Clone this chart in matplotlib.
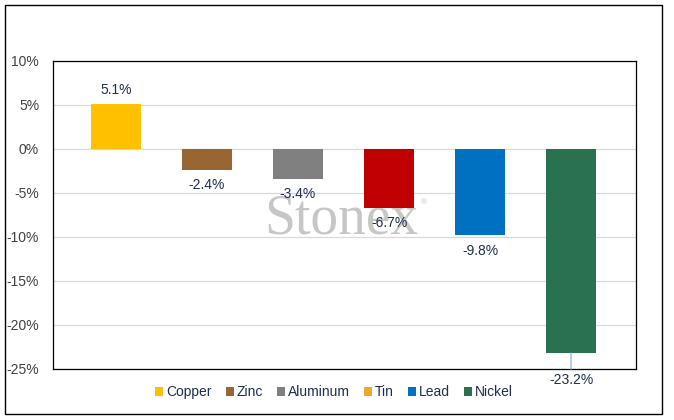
import matplotlib
matplotlib.use("Agg")
import matplotlib.pyplot as plt
from matplotlib.patches import Rectangle, Patch

plt.rcParams['font.family'] = ['Liberation Sans', 'DejaVu Sans']

metals = ["Copper", "Zinc", "Aluminum", "Tin", "Lead", "Nickel"]
changes = [5.1, -2.4, -3.4, -6.7, -9.8, -23.2]
bar_colors = ["#FFC000", "#996633", "#808080", "#C00000", "#0070C0", "#2A7150"]
legend_colors = ["#FFC000", "#996633", "#808080", "#F0A830", "#0070C0", "#2A7150"]
yticks = [10, 5, 0, -5, -10, -15, -20, -25]
ytick_labels = ["10%", "5%", "0%", "-5%", "-10%", "-15%", "-20%", "-25%"]

fig = plt.figure(figsize=(6.74, 4.2), dpi=100)
fig.patches.append(Rectangle((5/674, 1-414/420), (662-5)/674, (414-5)/420,
                             transform=fig.transFigure, fill=False,
                             edgecolor="black", linewidth=1.0))
ax = fig.add_axes([53/674, 1-369/420, (636-53)/674, (369-61)/420])

x = list(range(len(metals)))
ax.set_axisbelow(True)
ax.grid(axis='y', color="#D9D9D9", linewidth=0.9)
ax.bar(x, changes, width=0.55, color=bar_colors, zorder=2)

ax.set_ylim(-25, 10)
ax.set_xlim(-0.692, 5.714)
ax.set_yticks(yticks)
ax.set_yticklabels(ytick_labels, fontsize=10, color="#404040")
ax.set_xticks([])
ax.tick_params(axis='y', length=0, pad=10)
for s in ax.spines.values():
    s.set_linewidth(0.9)
    s.set_color("black")

txtc = "#1F2D4D"
for xi, v in zip(x, changes):
    if v >= 0:
        ax.annotate(f"{v:.1f}%", (xi, v), xytext=(0, 10), textcoords="offset points",
                    ha="center", va="center", fontsize=10, color=txtc, zorder=4)
    elif v < -20:
        ax.annotate(f"{v:.1f}%", (xi, v), xytext=(0, -19.5), textcoords="offset points",
                    ha="center", va="center", fontsize=10, color=txtc, zorder=4,
                    annotation_clip=False,
                    arrowprops=dict(arrowstyle="-", color="#8FB0D0", lw=0.9,
                                    shrinkA=1, shrinkB=0))
    else:
        ax.annotate(f"{v:.1f}%", (xi, v), xytext=(0, -11), textcoords="offset points",
                    ha="center", va="center", fontsize=10, color=txtc, zorder=4)

# watermark (behind bars)
ax.text(341.5/674, 1-233/420, "Stonex", transform=fig.transFigure, fontsize=40,
        family="Liberation Serif", color="#C6C6C6",
        ha="center", va="baseline", zorder=1)
ax.text(424/674, 1-203/420, "®", transform=fig.transFigure, fontsize=6,
        color="#C6C6C6", ha="center", va="center", zorder=1)

handles = [Patch(facecolor=c, edgecolor="none") for c in legend_colors]
fig.legend(handles, metals, loc="center", bbox_to_anchor=(334/674, 1-392/420),
           ncol=6, frameon=False, fontsize=10, handlelength=0.6, handleheight=0.6,
           handletextpad=0.2, columnspacing=1.0, labelcolor=txtc)

fig.savefig("out.png", dpi=100)
